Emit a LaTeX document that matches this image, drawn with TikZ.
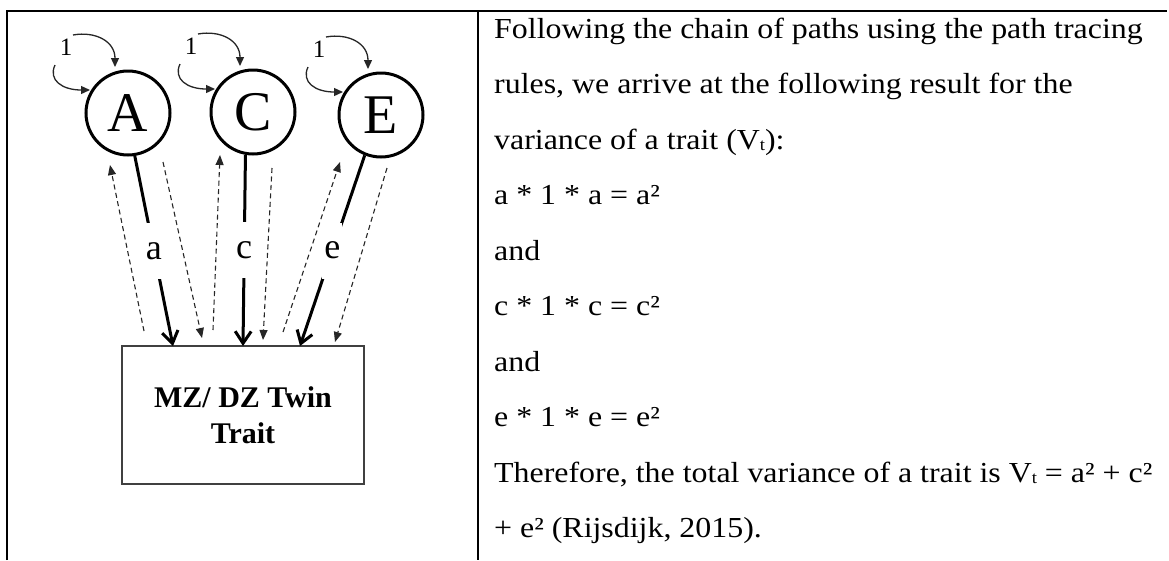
\documentclass[tikz,border=0pt]{standalone}
\usepackage{fontspec}
\setmainfont{Liberation Serif}
\newfontfamily\bodyfont[FakeStretch=1.1]{Liberation Serif}
\usetikzlibrary{arrows.meta,calc}
\newcommand{\vsub}[1]{\raisebox{-1.5pt}{\fontsize{17}{17}\selectfont #1}}
\begin{document}
\begin{tikzpicture}[x=1pt,y=-1pt,
 lat/.style={circle,draw,line width=3pt,minimum size=84pt,inner sep=0pt,font=\fontsize{56}{56}\selectfont},
 trait/.style={draw=black!75,line width=1.3pt,minimum width=242pt,minimum height=138pt,align=center,font=\bfseries\fontsize{30}{36}\selectfont},
 pathar/.style={line width=3pt,-{Straight Barb[length=12pt,width=16pt,line width=3pt]}},
 cov/.style={line width=1.1pt,black!85,dash pattern=on 5pt off 3.5pt,-{Triangle[length=10pt,width=8pt]}},
 selfar/.style={line width=1.3pt,black!85,-{Triangle[length=9pt,width=8pt]}},
 plab/.style={fill=white,inner sep=2pt,minimum height=56pt,font=\fontsize{36}{36}\selectfont},
 onelab/.style={inner sep=0pt,font=\fontsize{25}{25}\selectfont},
 bodytxt/.style={anchor=base west,inner sep=0pt,font=\bodyfont\fontsize{29}{55}\selectfont}
]
\useasboundingbox (0,0) rectangle (1169,560);
% table frame
\draw[line width=2pt] (7,560) -- (7,11);
\draw[line width=1.6pt] (6,11) -- (1167,11);
\draw[line width=2.5pt] (478,11) -- (478,560);

% latent factors
\node[lat] (A) at (128,113) {A};
\node[lat] (C) at (253,112) {C};
\node[lat] (E) at (381,115) {E};
\node[trait] (T) at (243,415) {MZ/ DZ Twin\\Trait};

% self loops
\foreach \X in {A,C,E}{
  \node[onelab] (one\X) at ($(\X)+(-62,-66)$) {1};
  \draw[selfar] ($(\X)+(-55,-78)$) .. controls ($(\X)+(-33,-82)$) and ($(\X)+(-13,-72)$) .. ($(\X)+(-13,-46)$);
  \draw[selfar] ($(\X)+(-73,-48)$) .. controls ($(\X)+(-80,-33)$) and ($(\X)+(-66,-23)$) .. ($(\X)+(-38,-23)$);
}

% path coefficients
\coordinate (ta) at (173,346);
\coordinate (tc) at (243,346);
\coordinate (te) at (300,346);
\draw[pathar] (A.-81) -- node[plab] (la) {a} (ta);
\draw[pathar] (C.-100) -- node[plab] (lc) {c} (tc);
\draw[pathar] (E.-112) -- node[plab] (le) {e} (te);

% dashed tracing arrows
\coordinate (a1s) at (144,331); \coordinate (a1e) at (110,165);
\coordinate (a2s) at (163,162); \coordinate (a2e) at (202,338);
\coordinate (c1s) at (213,330); \coordinate (c1e) at (220,155);
\coordinate (c2s) at (272,168); \coordinate (c2e) at (263,340);
\coordinate (e1s) at (283,332); \coordinate (e1e) at (340,162);
\coordinate (e2s) at (387,168); \coordinate (e2e) at (335,342);
\draw[cov] (a1s) -- (a1e);
\draw[cov] (a2s) -- (a2e);
\draw[cov] (c1s) -- (c1e);
\draw[cov] (c2s) -- (c2e);
\draw[cov] (e1s) -- (e1e);
\draw[cov] (e2s) -- (e2e);

% right text
\node[bodytxt] (t1) at (494,38) {Following the chain of paths using the path tracing};
\node[bodytxt] (t2) at (494,93.5) {rules, we arrive at the following result for the};
\node[bodytxt] (t3) at (494,149) {variance of a trait (V\vsub{t}):};
\node[bodytxt] (t4) at (494,204.5) {a * 1 * a = a²};
\node[bodytxt] (t5) at (494,260) {and};
\node[bodytxt] (t6) at (494,315.5) {c * 1 * c = c²};
\node[bodytxt] (t7) at (494,371) {and};
\node[bodytxt] (t8) at (494,426.5) {e * 1 * e = e²};
\node[bodytxt] (t9) at (494,482) {Therefore, the total variance of a trait is V\vsub{t} = a² + c²};
\node[bodytxt] (t10) at (494,537.5) {+ e² (Rijsdijk, 2015).};
\end{tikzpicture}
\end{document}
